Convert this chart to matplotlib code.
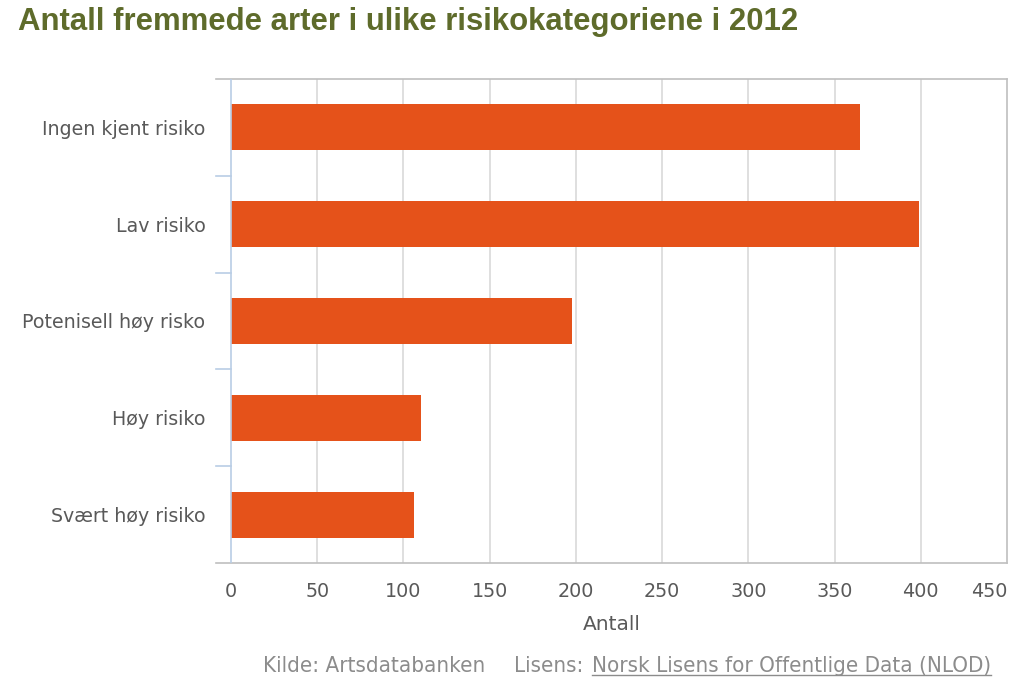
import matplotlib.pyplot as plt
import matplotlib.font_manager as fm
from matplotlib.lines import Line2D

# data
categories = ["Ingen kjent risiko", "Lav risiko", "Potenisell høy risko", "Høy risiko", "Svært høy risiko"]
values = [365, 399, 198, 110, 106]
xticks = [0, 50, 100, 150, 200, 250, 300, 350, 400, 450]

bar_color = "#E5521A"
text_gray = "#595959"

# bold Arial-like font for the title (avoid the Narrow variant)
title_font = None
for f in fm.fontManager.ttflist:
    if f.name == "Liberation Sans" and f.weight in (700, "bold") and f.style == "normal" \
            and "Narrow" not in f.fname:
        title_font = fm.FontProperties(fname=f.fname)
        break
if title_font is None:
    title_font = fm.FontProperties(family="DejaVu Sans", weight="bold")

fig = plt.figure(figsize=(10.24, 6.83), dpi=100)
ax = fig.add_axes([216 / 1024, 1 - 563 / 683, (1007 - 216) / 1024, (563 - 79) / 683])

ypos = list(range(len(categories)))
ax.barh(ypos, values, height=0.476, color=bar_color, zorder=3)
ax.set_ylim(len(categories) - 0.5, -0.5)
ax.set_xlim(-8.7, 450)

# frame
for s in ["top", "right", "bottom"]:
    ax.spines[s].set_color("#BFBFBF")
    ax.spines[s].set_linewidth(1.2)
ax.spines["left"].set_visible(False)

# y axis line at 0 and category boundary ticks
ax.axvline(0, color="#B9CDE5", lw=1.2, zorder=4)
for b in [0.5, 1.5, 2.5, 3.5]:
    ax.plot([-8.7, 0], [b, b], color="#B9CDE5", lw=1.2, clip_on=False, zorder=4)

ax.set_xticks(xticks)
ax.set_xticklabels([str(t) for t in xticks])
ax.tick_params(axis="x", length=0, pad=14, labelsize=13.8, labelcolor=text_gray)
ax.get_xticklabels()[-1].set_horizontalalignment("right")
for x in xticks[1:-1]:
    ax.axvline(x, color="#D9D9D9", lw=1.2, zorder=1)

ax.set_yticks(ypos)
ax.set_yticklabels(categories)
ax.tick_params(axis="y", length=0, pad=7.5, labelsize=13.7, labelcolor=text_gray)

ax.set_xlabel("Antall", fontsize=14.5, color=text_gray, labelpad=10)

title_font.set_size(22.4)
fig.text(18 / 1024, 1 - 22 / 683, "Antall fremmede arter i ulike risikokategoriene i 2012",
         fontproperties=title_font, color="#5E6B2B", va="center")

# footer
foot_kw = dict(fontsize=16, color="#8C8C8C", family="DejaVu Sans", stretch="condensed", va="center")
t1 = fig.text(263 / 1024, 1 - 666 / 683, "Kilde: Artsdatabanken", **foot_kw)
t2 = fig.text(991 / 1024, 1 - 666 / 683, "Norsk Lisens for Offentlige Data (NLOD)", ha="right", **foot_kw)
fig.canvas.draw()
r = fig.canvas.get_renderer()
bb = t2.get_window_extent(r)
fig.text(bb.x0 / 1024 - 0.008, 1 - 666 / 683, "Lisens:", ha="right", **foot_kw)
inv = fig.transFigure.inverted()
(x0, y0), (x1, _) = inv.transform([(bb.x0, bb.y0 + 1), (bb.x1, bb.y0 + 1)])
fig.add_artist(Line2D([x0, x1], [y0, y0], color="#8C8C8C", lw=1, transform=fig.transFigure))

fig.savefig("out.png", dpi=100)
